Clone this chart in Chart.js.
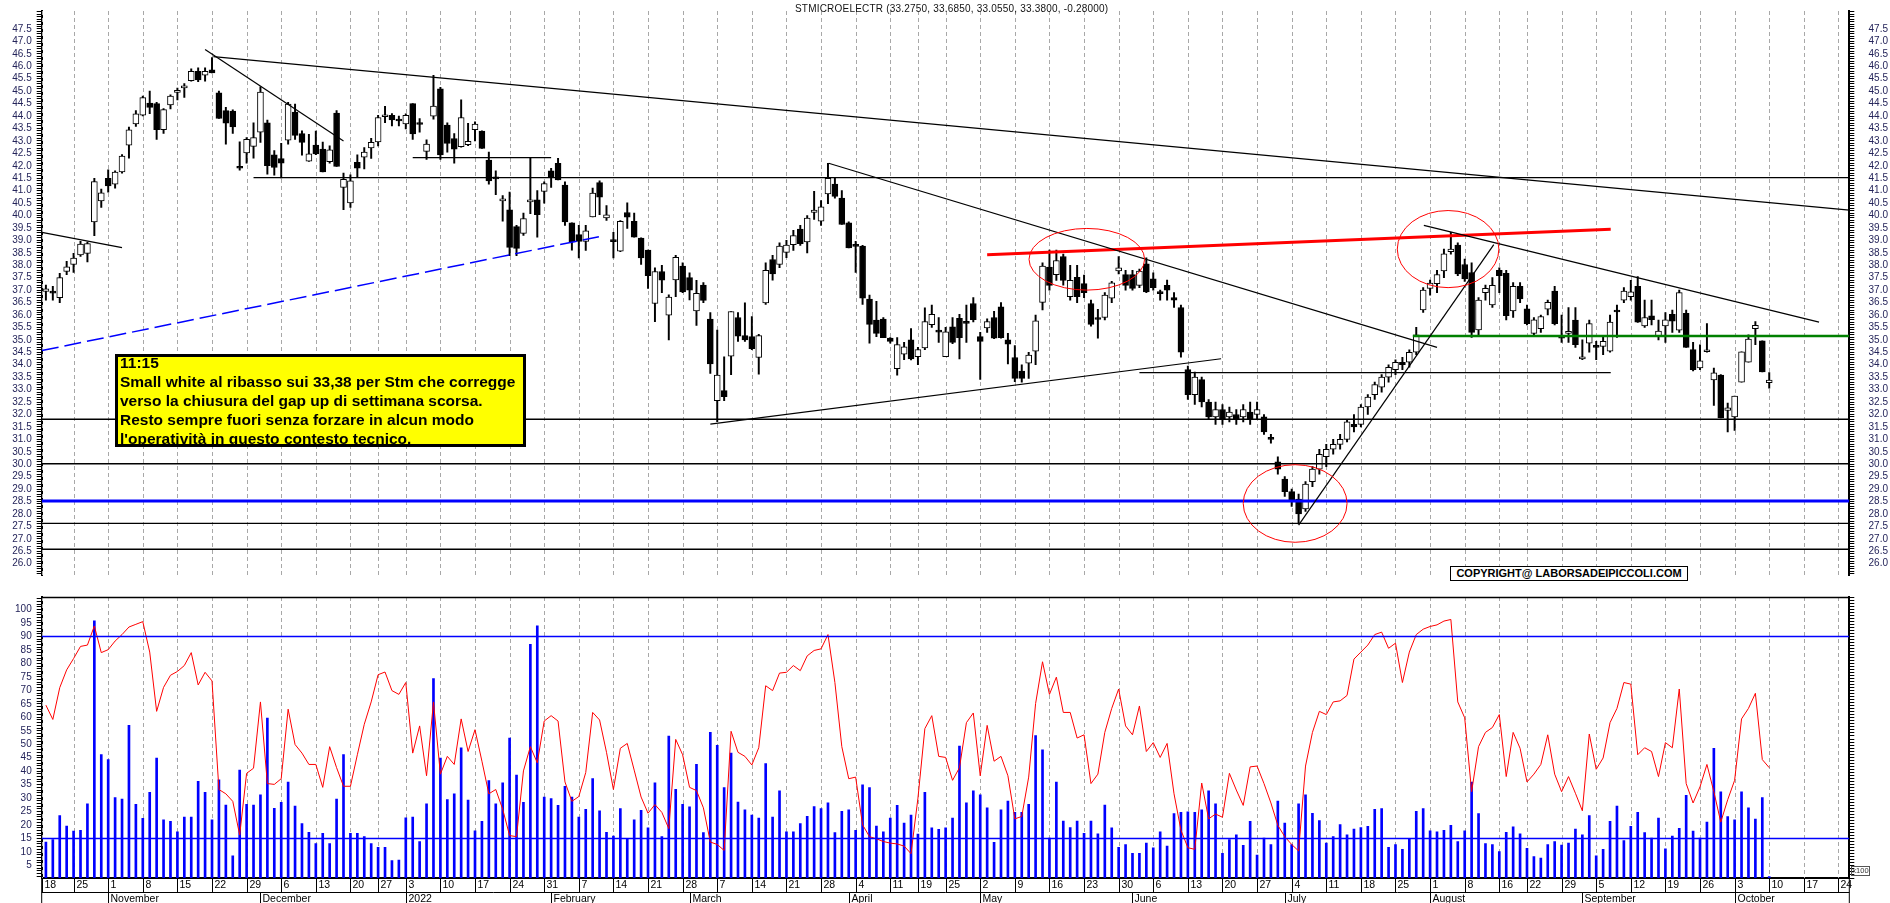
<!DOCTYPE html>
<html>
<head>
<meta charset="utf-8">
<script src="https://cdn.jsdelivr.net/npm/chart.js@4.4.0/dist/chart.umd.min.js"></script>
<style>
  body { margin: 0; background: #fff; width: 1890px; height: 903px; overflow: hidden; position: relative; font-family: "Liberation Sans", Arial, sans-serif; }
  canvas { position: absolute; left: 0; }
  #priceChart { top: 0; }
  #lowerChart { top: 586px; }
  #title { position: absolute; left: 795px; top: 3px; font-size: 10px; line-height: 12px; letter-spacing: 0.2px; color: #111; white-space: nowrap; }
  #note { position: absolute; left: 115px; top: 354px; width: 403px; height: 87px; background: #ffff00; border: 3px solid #000; padding-left: 2px; }
  #note div { position: relative; top: -4px; font-weight: bold; font-size: 15.5px; line-height: 19.1px; color: #000; white-space: nowrap; }
  #copy { position: absolute; left: 1450px; top: 566px; width: 238px; height: 15px; box-sizing: border-box; border: 1.5px solid #000; background: #fff; font-weight: bold; font-size: 11px; line-height: 12px; text-align: center; color: #000; white-space: nowrap; }
  #x100 { position: absolute; left: 1851px; top: 866px; width: 19px; height: 10px; box-sizing: border-box; border: 1px solid #555; font-size: 7.5px; line-height: 8px; text-align: center; color: #333; }
</style>
</head>
<body>
<canvas id="priceChart" width="1890" height="586"></canvas>
<canvas id="lowerChart" width="1890" height="317"></canvas>
<div id="title">STMICROELECTR (33.2750, 33.6850, 33.0550, 33.3800, -0.28000)</div>
<div id="note"><div>11:15<br>Small white al ribasso sui 33,38 per Stm che corregge<br>verso la chiusura del gap up di settimana scorsa.<br>Resto sempre fuori senza forzare in alcun modo<br>l'operatività in questo contesto tecnico.</div></div>
<div id="copy">COPYRIGHT@ LABORSADEIPICCOLI.COM</div>
<div id="x100">x100</div>
<script>
// ---- daily candles, STMicroelectronics, 19 Oct 2021 .. 10 Oct 2022 ----
var open = [36.95,36.9,36.7,37.75,38.03,38.42,38.48,39.74,40.59,41.49,
41.26,41.75,42.83,43.68,44.03,44.52,44.5,43.45,44.45,44.95,
45.13,45.42,45.8,45.64,45.86,44.93,44.22,44.2,41.95,42.52,
42.78,43.35,43.73,42.44,42.29,43.03,44.16,43.29,42.18,42.83,
42.67,42.16,44.12,41.13,40.51,42.14,42.35,42.72,42.96,43.97,
44.03,43.83,43.68,44.5,43.7,42.58,43.99,45.09,43.64,43.09,
42.77,42.85,43.45,43.39,42.23,41.5,40.59,40.23,39.55,39.28,
40.55,40.63,40.97,41.8,42.1,41.22,39.71,39.23,38.96,39.94,
41.32,39.9,38.97,38.57,40.12,39.77,39.09,38.61,36.46,37.75,
35.99,37.41,37.97,37.5,36.16,37.2,35.84,32.55,32.96,34.34,
35.9,35.17,35.13,34.29,36.49,38.23,38.03,38.52,38.83,39.45,
38.94,40.12,39.77,40.87,41.26,40.7,39.71,38.78,38.77,36.64,
35.8,35.84,35.07,33.84,34.42,35.0,34.32,34.68,35.61,35.33,
34.32,35.52,35.87,35.68,36.46,35.13,35.48,35.9,36.33,35.0,
34.29,33.74,34.06,34.55,36.51,37.93,37.62,38.35,36.74,37.51,
37.26,36.46,35.86,35.9,36.68,37.77,37.62,37.62,37.19,38.06,
37.45,36.88,37.19,36.7,36.3,33.8,32.8,33.4,32.5,31.9,
32.2,31.9,32.0,31.9,32.1,32.0,31.9,31.05,30.1,29.4,
28.9,28.6,28.2,29.3,29.8,30.3,30.6,30.8,31.0,31.6,
31.6,32.3,32.8,33.1,33.5,33.8,34.1,34.1,34.5,36.2,
37.07,37.26,37.77,38.55,38.81,38.03,37.71,35.4,36.9,36.4,
37.8,37.67,36.16,37.15,36.25,35.26,35.45,36.23,36.96,35.13,
35.26,35.8,34.23,34.87,34.74,34.74,34.55,36.16,36.6,36.74,
37.15,35.56,35.97,35.17,35.56,36.03,35.39,36.07,34.61,33.87,
34.52,33.39,33.58,32.16,31.9,33.3,34.1,35.45,34.96,33.275];
var high = [37.2,37.15,37.67,38.16,38.48,38.96,38.93,41.49,41.06,41.84,
41.8,42.45,43.56,44.22,44.8,45.0,44.55,44.3,44.85,45.12,
45.3,45.9,45.94,45.94,46.35,45.0,44.35,44.25,42.96,43.13,
43.73,45.17,43.84,42.61,42.9,44.55,44.48,43.4,43.26,43.39,
42.95,42.8,44.22,41.71,41.64,42.44,42.73,43.1,44.03,44.39,
44.1,44.0,44.09,44.5,43.9,43.04,45.64,45.15,43.73,43.29,
44.65,43.71,43.77,43.4,42.55,41.8,40.8,40.94,39.6,40.1,
42.33,41.0,41.35,41.9,42.3,41.35,39.71,39.6,39.6,41.1,
41.39,40.4,39.32,39.8,40.51,40.1,39.1,38.61,37.9,38.0,
36.81,38.4,38.1,37.7,37.39,37.3,36.1,35.39,34.32,36.14,
36.1,36.49,35.94,35.22,38.1,38.4,38.9,39.0,39.4,39.6,
40.0,40.97,40.6,42.1,41.5,41.0,39.75,38.96,38.8,36.8,
36.55,35.9,35.09,35.09,34.9,35.45,34.7,36.29,36.4,35.9,
35.5,35.9,36.03,36.4,36.7,35.3,35.85,36.15,36.5,35.26,
34.77,34.0,34.5,36.0,38.1,38.61,38.61,38.45,38.0,38.0,
37.6,36.6,36.23,36.9,37.35,38.35,37.8,37.8,37.85,38.3,
37.7,37.0,37.4,36.9,36.4,33.95,33.7,33.5,32.6,32.5,
32.4,32.3,32.2,32.4,32.5,32.5,32.0,31.2,30.3,29.5,
29.0,28.8,29.3,29.9,30.6,30.8,31.0,31.2,31.8,32.0,
32.4,32.8,33.3,33.6,34.0,34.2,34.3,34.6,35.5,37.1,
37.4,37.8,38.65,39.32,38.9,38.25,38.1,36.7,37.2,37.5,
37.9,37.8,37.3,37.3,36.4,35.9,36.0,36.6,37.15,36.0,
36.3,36.3,35.0,35.8,34.94,35.1,36.0,36.4,37.1,37.39,
37.54,36.6,36.6,35.8,36.1,36.2,37.0,36.2,34.9,34.8,
35.65,33.87,33.6,32.46,32.74,34.52,35.2,35.73,34.96,33.685];
var low = [36.6,36.6,36.5,37.62,37.71,38.35,38.13,39.19,40.33,40.94,
41.1,41.7,42.31,43.58,44.0,44.09,43.06,43.3,44.29,44.65,
44.75,45.4,45.38,45.4,45.73,43.9,42.87,43.3,41.82,42.1,
42.31,42.94,41.66,41.62,41.51,42.87,43.06,42.43,42.17,42.45,
41.75,42.1,41.97,40.23,40.33,41.54,41.87,42.3,42.8,43.73,
43.6,43.6,43.48,43.06,43.35,42.26,43.87,42.26,42.55,42.1,
42.75,42.81,43.0,42.7,41.26,40.84,39.77,38.39,38.39,39.2,
40.07,39.13,40.5,41.13,41.43,39.6,38.61,38.29,38.6,39.94,
40.03,39.8,38.29,38.55,39.48,39.13,38.03,37.07,35.73,36.9,
35.0,36.74,36.9,36.61,35.58,36.5,33.65,31.71,32.55,33.6,
34.94,34.94,34.61,33.62,36.42,37.4,37.9,38.3,38.6,38.8,
38.5,39.84,39.6,40.48,40.7,39.64,38.7,37.71,36.42,34.87,
35.13,35.09,34.87,33.58,34.2,34.19,34.0,34.61,35.5,34.9,
34.32,34.85,34.23,34.9,35.72,33.41,35.3,35.05,35.07,34.03,
33.32,33.3,33.45,34.0,36.2,37.0,37.39,37.2,36.6,36.5,
36.7,35.55,35.07,35.8,36.5,37.65,37.0,37.0,37.1,36.9,
37.0,36.6,36.6,36.3,34.3,32.6,32.4,32.3,31.8,31.6,
31.6,31.7,31.6,31.7,31.6,31.8,31.2,30.85,29.6,28.7,
28.3,27.6,28.1,29.1,29.6,29.9,30.4,30.6,30.9,31.3,
31.5,32.0,32.6,32.9,33.3,33.6,33.8,33.9,34.4,36.1,
36.8,36.9,37.5,38.45,37.58,37.35,35.1,35.2,36.6,36.3,
36.9,35.8,35.9,36.5,35.6,35.2,35.3,36.0,35.6,34.9,
34.9,34.7,34.2,34.5,34.2,34.4,34.5,35.1,36.5,36.6,
35.7,35.5,35.6,35.0,34.9,35.3,35.3,34.7,33.75,33.8,
34.5,32.36,31.86,31.3,31.36,33.3,34.1,34.81,33.71,33.055];
var close = [37.05,36.88,37.5,37.94,38.29,38.85,38.87,41.36,40.91,41.19,
41.75,42.39,43.44,44.09,44.74,44.35,43.45,44.26,44.8,44.97,
45.2,45.8,45.45,45.8,45.73,43.9,43.71,43.56,41.9,43.06,
43.13,44.96,42.0,41.93,42.1,44.48,43.22,42.94,42.48,42.48,
41.75,42.64,41.97,41.45,41.39,41.9,42.55,42.94,43.94,44.05,
43.84,43.8,44.03,43.28,43.66,42.87,44.4,42.44,42.9,42.67,
43.94,42.98,43.68,42.7,41.39,41.47,40.66,38.72,38.68,39.88,
40.61,40.03,41.28,41.52,41.43,39.74,38.94,38.96,39.38,40.9,
40.74,40.03,38.95,39.77,39.93,39.13,38.29,37.58,37.75,37.4,
36.72,38.32,36.93,37.0,36.87,36.59,34.03,33.58,32.72,36.14,
35.15,35.0,34.65,35.17,37.8,37.65,38.77,38.81,39.19,38.87,
39.9,40.22,40.35,41.49,40.77,39.64,38.7,38.76,36.68,35.62,
35.26,35.09,34.94,34.81,34.72,34.23,34.61,35.73,36.03,35.31,
35.32,34.9,35.09,35.66,35.81,34.94,35.73,35.07,35.09,34.83,
33.45,33.45,34.39,35.77,37.97,37.19,38.19,37.39,37.39,36.74,
36.9,35.62,35.82,36.8,37.29,37.9,37.19,37.07,37.77,36.93,
37.1,36.86,37.0,36.6,34.5,32.8,33.5,32.5,31.9,32.2,
31.8,32.1,31.8,32.2,31.8,32.2,31.3,31.0,29.8,28.9,
28.5,28.0,29.2,29.8,30.4,30.6,30.8,31.0,31.7,31.5,
32.3,32.7,33.2,33.5,33.9,34.1,34.0,34.5,35.2,37.0,
37.28,37.62,38.46,38.65,37.65,37.45,35.3,36.6,37.07,37.19,
37.58,35.97,37.15,36.65,35.65,35.81,35.94,36.51,35.65,35.07,
35.32,34.81,34.32,35.65,34.7,34.94,35.71,36.12,36.96,36.93,
35.71,35.9,35.81,35.35,35.81,35.75,36.9,34.7,33.8,34.16,
34.58,33.67,31.86,32.27,32.74,34.52,35.03,35.58,33.71,33.38];

// volume (right scale of the lower panel)
var volume = [17400,18200,26100,22700,21000,21300,30000,90300,46200,44600,
32100,31600,55900,29800,25200,33800,45100,24700,24200,20800,
25600,25600,37400,33800,24700,37900,29600,12900,41100,29800,
29600,33000,58300,28500,30500,37200,29300,23500,20600,16900,
20300,16900,31600,46200,20300,20300,19200,16900,15700,15700,
11300,11500,25400,25600,17600,30000,71300,45100,31400,33300,
48500,31200,21100,24200,37700,30000,
36900,51700,39500,30500,82600,88700,32200,31700,29500,35800,
32200,25600,28200,38300,27700,20600,19400,28400,18400,24700,
27900,22100,36900,19200,52300,34800,29800,29000,43000,20500,
53600,49300,35400,46700,30600,28000,26300,25300,43300,25600,
34300,20800,20800,23500,25900,29100,28400,30300,20500,27500,
28000,21300,36300,35400,22700,20800,25300,29500,23700,26300,
20000,33800,22100,21600,22100,25300,49000,30300,34300,33000,
28700,17300,
28000,30900,27200,27200,29800,52500,47800,18700,37200,24300,
22200,24300,20300,24300,20100,29600,22100,15700,16600,13700,
13700,17100,15500,20800,16100,26800,27200,27400,27200,28000,
34300,30000,13700,18200,19800,16300,24200,13100,18700,16600,
30900,23700,16600,30000,33000,26900,24500,17100,19200,23200,
19800,21700,22200,22600,28200,28400,15700,16600,15000,18400,
27500,28400,21100,20800,21300,22900,17600,21100,37200,26800,
16900,16600,14300,
20600,22400,20100,15300,12600,12100,16600,17600,16400,17100,
21700,19800,26100,12900,15000,24200,29300,17900,22600,27200,
20500,18700,25300,15200,19400,21900,32800,21000,18700,24000,
48300,34000,25800,24700,34000,28700,25000,32100,6000];

// oscillator (left scale of the lower panel)
var oscillator = [64.5,59.2,71,77.6,81.8,86.3,86.8,93.9,84,85.1,
88.3,90.7,93.5,94.5,95.5,84.2,62.2,71.1,75.6,77,
79.2,84,72,76.7,73.5,33.2,31.6,28.8,16.3,39.2,
41.1,65.7,35.4,35.1,37.2,63,49.9,46.7,42.5,42.5,
34,49.1,41.3,34.4,34.4,46.1,57.4,65.7,75.8,76.8,
69.9,68.5,72.9,46.7,56.8,38.3,65.7,38.9,45.5,42.5,
59.4,47.3,55.4,43.7,31.6,33.2,
25.9,16.1,15.7,40.1,49.1,43.1,58.6,60.6,58.6,36,
28.8,30.6,39.5,61.8,59,47,33.2,48.5,50.3,40.4,
30.4,24.4,27.6,24.7,18.7,51.8,46.1,34,32.8,26.4,
13.7,12.8,10.6,54.8,47,45.5,42.3,48.7,71.7,69.9,
76.4,76.7,79.2,77.3,82.8,84.8,85.4,90.7,72.9,49.1,
37.2,37.8,20.1,15.7,14.9,13.9,13.3,13,12.2,9.4,
30,55.8,60.6,45.5,45.1,36.6,41.3,58,61.6,38.3,
57,43.7,
45.5,38.3,22.3,23.2,37.8,65.1,80.6,68.5,74.9,61.8,
61.8,52.3,53.5,35.4,38.9,54.4,63.3,70.5,56.8,53.5,
64.2,47.3,50.6,45.1,50.3,31.6,18.1,11.6,11,35.6,
22.3,24.1,22.9,39.2,33,27.3,41.6,41.9,35.4,28.2,
19.9,15.7,12.8,10.4,41.9,54.4,62.2,61,65.7,66.1,
68.1,81.6,84.2,86.8,90.7,91.6,85.6,87.5,72.9,84.2,
90.7,92.7,93.7,94.3,95.7,96.3,65.7,59.8,32.4,49.1,
54.4,56.2,61,
38,54.4,48.5,36,38.9,42.5,53.5,38.9,32.4,38,
31.8,25.3,53.8,40.7,44.9,58,63.3,72.9,72.3,46.1,
48.7,47.3,38,50.6,48.7,70.5,35.4,28.2,34.2,42.5,
32.4,21.1,29.4,36.6,59.4,63.3,68.9,44.3,41.3];

// drawn trend lines: [x = bar index, y = price]
var trendLines = [
  [[24.2, 46.39], [260.57, 40.22]],
  [[23.0, 46.67], [43.0, 43.0]],
  [[-0.58, 39.32], [11.0, 38.71]],
  [[30.0, 41.52], [260.57, 41.52]],
  [[53.0, 42.33], [73.0, 42.33]],
  [[113.1, 42.1], [201.0, 34.7]],
  [[96.0, 31.61], [169.8, 34.24]],
  [[158.0, 33.68], [226.1, 33.68]],
  [[199.1, 39.6], [256.2, 35.71]],
  [[181.0, 27.55], [209.2, 38.83]]
];
var levels = [31.81, 30.02, 27.62, 26.58];
var blueLevel = 28.52;
var redLine = [[136.0, 38.42], [226.1, 39.45]];
var greenLine = [[197.5, 35.15], [260.57, 35.15]];
var blueDashed = [[-0.58, 34.57], [79.9, 39.15]];
var ellipses = [[150.4, 38.24, 8.35, 1.24], [202.6, 38.65, 7.34, 1.55], [180.5, 28.42, 7.5, 1.56]];
var oscLevels = [90, 15];

var X_MIN = -0.607, X_MAX = 260.57;
var monthNames = ['2022','February','March','April','May','June','July','August','September','October','November','December'];
var holidays = ['2021-12-24','2021-12-31','2022-04-15','2022-04-18','2022-08-15'];

// trading calendar
var days = [];
for (var d = new Date(Date.UTC(2021, 9, 19)); days.length < 262; d.setUTCDate(d.getUTCDate() + 1)) {
  var wd = d.getUTCDay();
  if (wd === 0 || wd === 6 || holidays.indexOf(d.toISOString().slice(0, 10)) >= 0) continue;
  days.push(new Date(d));
}
var firstMon = new Date(days[0]); firstMon.setUTCDate(firstMon.getUTCDate() - (firstMon.getUTCDay() - 1));
var weekTicks = [{ i: X_MIN, label: String(firstMon.getUTCDate()) }];
var monthTicks = [];
for (var i = 1; i < days.length && i <= X_MAX; i++) {
  if (days[i].getUTCDay() < days[i - 1].getUTCDay()) weekTicks.push({ i: i, label: String(days[i].getUTCDate()) });
  if (days[i].getUTCMonth() !== days[i - 1].getUTCMonth()) {
    var m = days[i].getUTCMonth();
    monthTicks.push({ i: i, label: m === 0 ? String(days[i].getUTCFullYear()) : monthNames[m] });
  }
}

var FONT = '"Liberation Sans", Arial, sans-serif';
var LABEL = '#24245a';

function lineDs(pts, color, width, dash, axis) {
  return { type: 'line', data: pts.map(function (p) { return { x: p[0], y: p[1] }; }),
    borderColor: color, borderWidth: width, borderDash: dash || [], pointRadius: 0,
    fill: false, tension: 0, order: 1, yAxisID: axis || 'y' };
}

var isStep = function (v, step) { var r = v / step; return Math.abs(r - Math.round(r)) < 1e-6; };

// dashed weekly grid, drawn through the x scale
var weekGrid = {
  id: 'weekGrid',
  beforeDatasetsDraw: function (chart) {
    var ctx = chart.ctx, a = chart.chartArea, x = chart.scales.x;
    ctx.save();
    ctx.strokeStyle = '#a8a8a8'; ctx.lineWidth = 1; ctx.setLineDash([4, 3]);
    weekTicks.forEach(function (t) {
      var px = Math.round(x.getPixelForValue(t.i)) + 0.5;
      ctx.beginPath(); ctx.moveTo(px, a.top); ctx.lineTo(px, a.bottom); ctx.stroke();
    });
    ctx.restore();
  }
};

// ---------- price panel ----------
var priceSets = [
  { type: 'bar', data: low.map(function (l, i) { return { x: i, y: [l, high[i]] }; }),
    backgroundColor: '#000', barThickness: 1.3, grouped: false, order: 3 },
  { type: 'bar', data: open.map(function (o, i) { return { x: i, y: [Math.min(o, close[i]), Math.max(o, close[i])] }; }),
    backgroundColor: open.map(function (o, i) { return close[i] >= o ? '#fff' : '#000'; }),
    borderColor: '#000', borderWidth: 1, borderSkipped: false, barThickness: 6, minBarLength: 2, grouped: false, order: 2 }
];
trendLines.forEach(function (t) { priceSets.push(lineDs(t, '#000', 1.2)); });
levels.forEach(function (v) { priceSets.push(lineDs([[X_MIN, v], [X_MAX, v]], '#000', 1.4)); });
priceSets.push(lineDs([[X_MIN, blueLevel], [X_MAX, blueLevel]], '#0000ff', 3));
priceSets.push(lineDs(redLine, '#ff0000', 3));
priceSets.push(lineDs(greenLine, '#008000', 2.5));
priceSets.push(lineDs(blueDashed, '#0000ff', 1.5, [17, 6]));

var ellipsePlugin = {
  id: 'ellipses',
  afterDatasetsDraw: function (chart) {
    var ctx = chart.ctx, x = chart.scales.x, y = chart.scales.y;
    ctx.save(); ctx.strokeStyle = '#ff0000'; ctx.lineWidth = 1;
    ellipses.forEach(function (e) {
      var cx = x.getPixelForValue(e[0]), cy = y.getPixelForValue(e[1]);
      var rx = Math.abs(x.getPixelForValue(e[0] + e[2]) - cx), ry = Math.abs(y.getPixelForValue(e[1] + e[3]) - cy);
      ctx.beginPath(); ctx.ellipse(cx, cy, rx, ry, 0, 0, Math.PI * 2); ctx.stroke();
    });
    ctx.restore();
  }
};

function yAxis(pos, min, max, step, labelFn, width) {
  return {
    type: 'linear', position: pos, min: min, max: max,
    afterFit: function (s) { s.width = width; },
    ticks: { stepSize: step, autoSkip: false, includeBounds: false, maxTicksLimit: 1000, padding: 5,
      crossAlign: pos === 'right' ? 'far' : 'near', color: LABEL, font: { family: FONT, size: 10 }, callback: labelFn },
    grid: { drawOnChartArea: false, drawTicks: true, tickLength: 5, tickColor: '#000' },
    border: { display: true, color: '#000', width: 2 }
  };
}
var priceLabel = function (v) { return (isStep(v, 0.5) && v < 47.6) ? v.toFixed(1) : ''; };

new Chart(document.getElementById('priceChart'), {
  type: 'bar',
  data: { datasets: priceSets },
  options: {
    responsive: false, animation: false, devicePixelRatio: 1,
    layout: { padding: { left: 0, right: 2, top: 0, bottom: 0 } },
    plugins: { legend: { display: false }, tooltip: { enabled: false } },
    scales: {
      x: { type: 'linear', min: X_MIN, max: X_MAX, offset: false,
        afterFit: function (s) { s.height = 0; },
        ticks: { display: false }, grid: { display: false }, border: { display: false } },
      y: yAxis('left', 25.545, 48.223, 0.1, priceLabel, 41.7),
      y2: yAxis('right', 25.545, 48.223, 0.1, priceLabel, 38.7)
    }
  },
  plugins: [weekGrid, ellipsePlugin]
});

// ---------- lower panel: volume + oscillator ----------
var lowerSets = [
  { type: 'bar', data: volume.map(function (v, i) { return { x: i, y: v }; }), yAxisID: 'yr',
    backgroundColor: '#0000ff', barThickness: 2, grouped: false, order: 3 },
  { type: 'line', data: oscillator.map(function (v, i) { return { x: i, y: v }; }), yAxisID: 'yl',
    borderColor: '#ff0000', borderWidth: 1, pointRadius: 0, fill: false, tension: 0, order: 2 }
];
oscLevels.forEach(function (v) { lowerSets.push(lineDs([[X_MIN, v], [X_MAX, v]], '#0000ff', 1.5, null, 'yl')); });

var axisRows = {
  id: 'axisRows',
  afterDraw: function (chart) {
    var ctx = chart.ctx, a = chart.chartArea, x = chart.scales.x;
    var y0 = a.bottom, y1 = y0 + 14, y2 = chart.height;
    function seg(x1, ya, x2, yb) { ctx.beginPath(); ctx.moveTo(x1, ya); ctx.lineTo(x2, yb); ctx.stroke(); }
    ctx.save();
    ctx.strokeStyle = '#000'; ctx.lineWidth = 1.5;
    seg(a.left, a.top + 0.5, a.right, a.top + 0.5);
    ctx.lineWidth = 1;
    ctx.fillStyle = '#000'; ctx.textBaseline = 'middle'; ctx.textAlign = 'left';
    ctx.font = '10.5px ' + FONT;
    weekTicks.forEach(function (t) {
      var px = Math.round(x.getPixelForValue(t.i)) + 0.5;
      seg(px, y0, px, y1);
      ctx.fillText(t.label, px + 2, y0 + 7.5);
    });
    seg(a.left, y1 + 0.5, a.right, y1 + 0.5);
    monthTicks.forEach(function (t) {
      var px = Math.round(x.getPixelForValue(t.i)) + 0.5;
      seg(px, y1, px, y2);
      ctx.fillText(t.label, px + 2, y1 + 7.5);
    });
    seg(a.left, y0, a.left, y2);
    seg(a.right, y0, a.right, y2);
    ctx.restore();
  }
};

var oscLabel = function (v) { return (isStep(v, 5) && v > 4 && v < 101) ? String(Math.round(v)) : ''; };
var volLabel = function (v) { return (isStep(v, 5000) && v > 9999) ? String(Math.round(v)) : ''; };

new Chart(document.getElementById('lowerChart'), {
  type: 'bar',
  data: { datasets: lowerSets },
  options: {
    responsive: false, animation: false, devicePixelRatio: 1,
    layout: { padding: { left: 0, right: 2, top: 0, bottom: 0 } },
    plugins: { legend: { display: false }, tooltip: { enabled: false } },
    scales: {
      x: { type: 'linear', min: X_MIN, max: X_MAX, offset: false,
        afterFit: function (s) { s.height = 25; },
        ticks: { display: false }, grid: { display: false },
        border: { display: true, color: '#000', width: 2 } },
      yl: yAxis('left', 0.357, 104.64, 1, oscLabel, 41.7),
      yr: yAxis('right', 5560, 98170, 1000, volLabel, 38.7)
    }
  },
  plugins: [weekGrid, axisRows]
});
</script>
</body>
</html>
